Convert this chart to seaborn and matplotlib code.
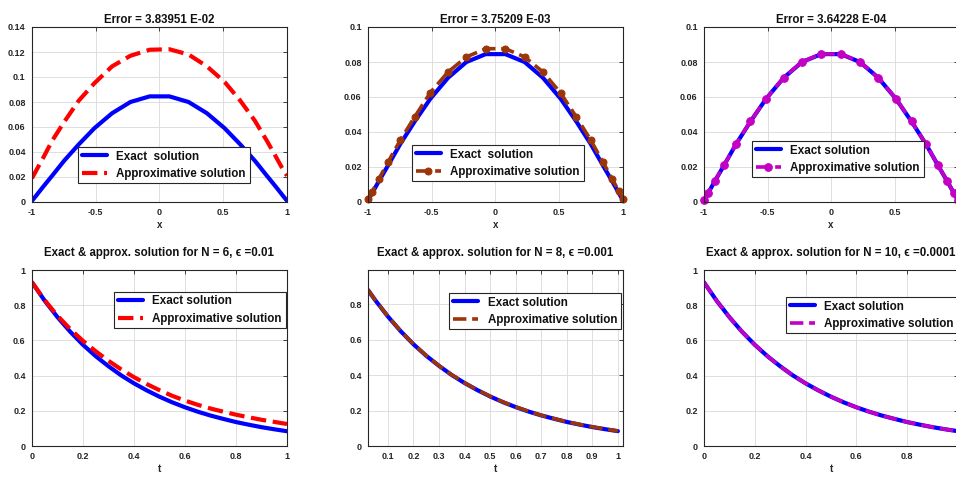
import numpy as np
import pandas as pd
import matplotlib
matplotlib.use("Agg")
import matplotlib.pyplot as plt
import seaborn as sns
from matplotlib import font_manager as fm

sns.set_theme(style="white")
_avail = {f.name for f in fm.fontManager.ttflist}
_fam = ["Liberation Sans Narrow"] if "Liberation Sans Narrow" in _avail else ["Liberation Sans"]
plt.rcParams["font.family"] = _fam + ["DejaVu Sans"]
plt.rcParams["font.weight"] = "bold"
plt.rcParams["mathtext.fontset"] = "dejavusans"

# ---------------- data ----------------
x_nodes = [-1.0, -0.968, -0.914, -0.842, -0.748, -0.634, -0.511, -0.372, -0.228, -0.077,
           0.077, 0.228, 0.372, 0.511, 0.634, 0.748, 0.842, 0.914, 0.968, 1.0]
u_exact = [0.001, 0.005, 0.012, 0.021, 0.033, 0.046, 0.059, 0.071, 0.080, 0.0845,
           0.0845, 0.080, 0.071, 0.059, 0.046, 0.033, 0.021, 0.012, 0.005, 0.001]
u_approx_n6 = [0.019, 0.025, 0.035, 0.049, 0.064, 0.081, 0.095, 0.1085, 0.117, 0.1218,
               0.1222, 0.118, 0.1085, 0.096, 0.081, 0.065, 0.049, 0.036, 0.026, 0.021]
u_approx_n8 = [0.0019, 0.0057, 0.0133, 0.0229, 0.0352, 0.0486, 0.0625, 0.0743, 0.0829, 0.0876,
               0.0876, 0.0829, 0.0743, 0.0622, 0.0486, 0.0352, 0.0229, 0.0133, 0.0062, 0.0019]
u_approx_n10 = [0.0012, 0.0051, 0.0121, 0.0211, 0.0331, 0.0461, 0.0591, 0.0711, 0.0801, 0.0846,
                0.0846, 0.0801, 0.0711, 0.0591, 0.0461, 0.0331, 0.0211, 0.0121, 0.0051, 0.0012]

t_full = [0.0, 0.05, 0.1, 0.15, 0.2, 0.25, 0.3, 0.35, 0.4, 0.45, 0.5,
          0.55, 0.6, 0.65, 0.7, 0.75, 0.8, 0.85, 0.9, 0.95, 1.0]
v_exact = [0.930, 0.825, 0.732, 0.649, 0.575, 0.510, 0.453, 0.401, 0.356, 0.316, 0.280,
           0.248, 0.220, 0.195, 0.173, 0.154, 0.136, 0.121, 0.107, 0.095, 0.084]
v_approx_n6 = [0.930, 0.828, 0.740, 0.664, 0.597, 0.538, 0.484, 0.435, 0.391, 0.352, 0.317,
               0.285, 0.258, 0.234, 0.213, 0.195, 0.178, 0.163, 0.149, 0.137, 0.125]
t_trim = [0.022, 0.05, 0.1, 0.15, 0.2, 0.25, 0.3, 0.35, 0.4, 0.45, 0.5,
          0.55, 0.6, 0.65, 0.7, 0.75, 0.8, 0.85, 0.9, 0.95, 1.0]
v_exact_trim = [0.882, 0.825, 0.732, 0.649, 0.575, 0.510, 0.453, 0.401, 0.356, 0.316, 0.280,
                0.248, 0.220, 0.195, 0.173, 0.154, 0.136, 0.121, 0.107, 0.095, 0.084]
v_approx_n8 = [0.883, 0.826, 0.733, 0.650, 0.576, 0.511, 0.454, 0.402, 0.357, 0.317, 0.281,
               0.249, 0.221, 0.196, 0.174, 0.155, 0.137, 0.122, 0.108, 0.096, 0.085]
v_approx_n10 = [0.930, 0.825, 0.732, 0.649, 0.575, 0.510, 0.453, 0.401, 0.356, 0.316, 0.280,
                0.248, 0.220, 0.195, 0.173, 0.154, 0.136, 0.121, 0.107, 0.095, 0.084]

titles_top = ["Error = 3.83951 E-02", "Error = 3.75209 E-03", "Error = 3.64228 E-04"]
titles_bottom = ["Exact & approx. solution for N = 6, \u03f5 =0.01",
                 "Exact & approx. solution for N = 8, \u03f5 =0.001",
                 "Exact & approx. solution for N = 10, \u03f5 =0.0001"]
exact_labels_top = ["Exact  solution", "Exact  solution", "Exact solution"]
approx_label = "Approximative solution"
exact_label = "Exact solution"

xt_top = [-1, -0.5, 0, 0.5, 1]
xtl_top = ["-1", "-0.5", "0", "0.5", "1"]
xtl_top_right = ["-1", "-0.5", "0", "0.5", ""]   # "1" falls past the right edge of the image
yt_tl = [0, 0.02, 0.04, 0.06, 0.08, 0.1, 0.12, 0.14]
ytl_tl = ["0", "0.02", "0.04", "0.06", "0.08", "0.1", "0.12", "0.14"]
yt_t = [0, 0.02, 0.04, 0.06, 0.08, 0.1]
ytl_t = ["0", "0.02", "0.04", "0.06", "0.08", "0.1"]
xt_b = [0, 0.2, 0.4, 0.6, 0.8, 1]
xtl_b = ["0", "0.2", "0.4", "0.6", "0.8", "1"]
xtl_b_right = ["0", "0.2", "0.4", "0.6", "0.8", ""]
xt_bm = [0.1, 0.2, 0.3, 0.4, 0.5, 0.6, 0.7, 0.8, 0.9, 1]
xtl_bm = ["0.1", "0.2", "0.3", "0.4", "0.5", "0.6", "0.7", "0.8", "0.9", "1"]
yt_b = [0, 0.2, 0.4, 0.6, 0.8, 1]
ytl_b = ["0", "0.2", "0.4", "0.6", "0.8", "1"]
yt_bm = [0, 0.2, 0.4, 0.6, 0.8]
ytl_bm = ["0", "0.2", "0.4", "0.6", "0.8"]

BLUE = "#0000ff"
RED = "#ff0000"
BROWN = "#9c3608"
MAG = "#c400c4"
AXC = "#262626"

W, H = 956, 478
fig = plt.figure(figsize=(W / 100, H / 100), dpi=100)


def add_ax(l, t, r, b):
    return fig.add_axes([l / W, 1 - b / H, (r - l) / W, (b - t) / H])


def style(ax, xlim, ylim, xt, xtl, yt, ytl, title, xlabel, tpad):
    ax.set_xlim(*xlim)
    ax.set_ylim(*ylim)
    ax.set_xticks(xt)
    ax.set_xticklabels(xtl)
    ax.set_yticks(yt)
    ax.set_yticklabels(ytl)
    ax.grid(True, color="#dedede", linewidth=0.7)
    ax.set_axisbelow(True)
    ax.tick_params(direction="in", top=True, right=True, length=3, width=0.6,
                   labelsize=6.5, pad=4.5, colors=AXC)
    for lab in ax.get_xticklabels() + ax.get_yticklabels():
        lab.set_fontweight("bold")
    for s in ax.spines.values():
        s.set_color(AXC)
        s.set_linewidth(0.8)
    ax.set_title(title, fontsize=8.3, fontweight="bold", pad=tpad, color="#111111")
    ax.set_xlabel(xlabel, fontsize=7, fontweight="bold", labelpad=2, color=AXC)
    ax.set_ylabel("")


def legend(ax, x0, y0):
    leg = ax.legend(loc="upper left", bbox_to_anchor=(x0 / W, 1 - y0 / H),
                    bbox_transform=fig.transFigure, frameon=True, fancybox=False,
                    fontsize=8.4, handlelength=2.2, handletextpad=0.8, borderpad=0.3,
                    labelspacing=0.45, borderaxespad=0)
    fr = leg.get_frame()
    fr.set_edgecolor(AXC)
    fr.set_linewidth(0.8)
    fr.set_facecolor("white")
    fr.set_alpha(1)
    for txt in leg.get_texts():
        txt.set_fontweight("bold")
        txt.set_color("#111111")


top_boxes = [(32, 27, 287, 202), (368, 27, 623, 202), (704, 27, 958, 202)]
bot_boxes = [(32, 270, 287, 446), (368, 270, 623, 446), (704, 270, 958, 446)]

# ---------------- top row ----------------
ax = add_ax(*top_boxes[0])
sns.lineplot(x=x_nodes, y=u_exact, ax=ax, color=BLUE, linewidth=3, label=exact_labels_top[0])
sns.lineplot(x=x_nodes, y=u_approx_n6, ax=ax, color=RED, linewidth=3, linestyle="--",
             label=approx_label)
style(ax, (-1, 1), (0, 0.14), xt_top, xtl_top, yt_tl, ytl_tl, titles_top[0], "x", 3)
legend(ax, 78, 147)

ax = add_ax(*top_boxes[1])
sns.lineplot(x=x_nodes, y=u_exact, ax=ax, color=BLUE, linewidth=3, label=exact_labels_top[1])
sns.lineplot(x=x_nodes, y=u_approx_n8, ax=ax, color=BROWN, linewidth=2.6, linestyle="--",
             marker="o", markersize=5, markeredgecolor=BROWN, label=approx_label, clip_on=False)
style(ax, (-1, 1), (0, 0.1), xt_top, xtl_top, yt_t, ytl_t, titles_top[1], "x", 3)
legend(ax, 412, 145)

ax = add_ax(*top_boxes[2])
sns.lineplot(x=x_nodes, y=u_exact, ax=ax, color=BLUE, linewidth=3, label=exact_labels_top[2])
sns.lineplot(x=x_nodes, y=u_approx_n10, ax=ax, color=MAG, linewidth=2.6, linestyle="--",
             marker="o", markersize=5.5, markeredgecolor=MAG, label=approx_label, clip_on=False)
style(ax, (-1, 1), (0, 0.1), xt_top, xtl_top_right, yt_t, ytl_t, titles_top[2], "x", 3)
legend(ax, 752, 141)

# ---------------- bottom row ----------------
ax = add_ax(*bot_boxes[0])
sns.lineplot(x=t_full, y=v_exact, ax=ax, color=BLUE, linewidth=3, label=exact_label)
sns.lineplot(x=t_full, y=v_approx_n6, ax=ax, color=RED, linewidth=3, linestyle="--",
             label=approx_label)
style(ax, (0, 1), (0, 1), xt_b, xtl_b, yt_b, ytl_b, titles_bottom[0], "t", 10)
legend(ax, 114, 292)

ax = add_ax(*bot_boxes[1])
sns.lineplot(x=t_trim, y=v_exact_trim, ax=ax, color=BLUE, linewidth=3, label=exact_label)
sns.lineplot(x=t_trim, y=v_approx_n8, ax=ax, color=BROWN, linewidth=2.6, linestyle="--",
             label=approx_label)
style(ax, (0.022, 1.02), (0, 0.995), xt_bm, xtl_bm, yt_bm, ytl_bm, titles_bottom[1], "t", 10)
legend(ax, 449, 293)

ax = add_ax(*bot_boxes[2])
sns.lineplot(x=t_full, y=v_exact, ax=ax, color=BLUE, linewidth=3, label=exact_label)
sns.lineplot(x=t_full, y=v_approx_n10, ax=ax, color=MAG, linewidth=2.6, linestyle="--",
             label=approx_label)
style(ax, (0, 1), (0, 1), xt_b, xtl_b_right, yt_b, ytl_b, titles_bottom[2], "t", 10)
legend(ax, 786, 297)

fig.savefig("out.png", dpi=100, facecolor="white")
